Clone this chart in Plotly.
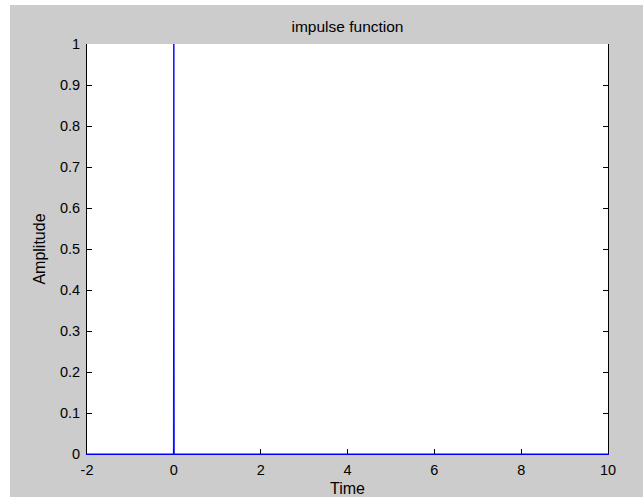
import plotly.graph_objects as go

# Data
time = [-2, -0.01, 0, 0.01, 10]
amplitude = [0, 0, 1, 0, 0]

x_ticks = [-2, 0, 2, 4, 6, 8, 10]
x_tick_labels = ["-2", "0", "2", "4", "6", "8", "10"]
y_ticks = [0, 0.1, 0.2, 0.3, 0.4, 0.5, 0.6, 0.7, 0.8, 0.9, 1]
y_tick_labels = ["0", "0.1", "0.2", "0.3", "0.4", "0.5", "0.6", "0.7", "0.8", "0.9", "1"]

W, H = 643, 497
L, R, T, B = 87, 35, 44, 43
PW, PH = W - L - R, H - T - B

FAMILY = "Liberation Sans, Arial, sans-serif"
tick_font = dict(family=FAMILY, size=14.5, color="#000000")
label_font = dict(family=FAMILY, size=16, color="#000000")
title_font = dict(family=FAMILY, size=15.5, color="#000000")

fig = go.Figure()
fig.add_trace(go.Scatter(x=time, y=amplitude, mode="lines",
                         line=dict(color="#0000ff", width=1),
                         showlegend=False, hoverinfo="skip"))

common = dict(showgrid=False, zeroline=False, ticks="inside", ticklen=5,
              tickcolor="#000000", tickwidth=1, tickfont=tick_font,
              layer="below traces", automargin=False, fixedrange=True)

fig.update_layout(
    width=W, height=H,
    autosize=False,
    margin=dict(l=L, r=R, t=T, b=B, pad=0, autoexpand=False),
    paper_bgcolor="#cccccc",
    plot_bgcolor="#ffffff",
    font=tick_font,
    hovermode=False,
    title=dict(text="impulse function", x=(L + PW / 2) / W, xanchor="center",
               y=1 - 27 / H, yanchor="middle", font=title_font),
    xaxis=dict(range=[-2, 10], tickvals=x_ticks, ticktext=x_tick_labels,
               showline=True, linecolor="#0000ff", linewidth=1, mirror=False,
               ticklabelstandoff=3,
               title=dict(text="Time", font=label_font, standoff=5), **common),
    xaxis2=dict(range=[-2, 10], tickvals=x_ticks, overlaying="x", side="top",
                showticklabels=False, showline=True, linecolor="#000000",
                linewidth=1, **common),
    yaxis=dict(range=[0, 1], tickvals=y_ticks, ticktext=y_tick_labels,
               showline=True, linecolor="#000000", linewidth=1, mirror="ticks",
               ticklabelstandoff=3,
               title=dict(text="Amplitude", font=label_font, standoff=10), **common),
    shapes=[
        dict(type="rect", xref="paper", yref="paper", layer="below",
             x0=-L / PW, x1=(10 - L) / PW, y0=-B / PH, y1=(H - B) / PH,
             fillcolor="#ffffff", line=dict(width=0)),
        dict(type="rect", xref="paper", yref="paper", layer="below",
             x0=-L / PW, x1=(W - L) / PW, y0=(H - B - 5) / PH, y1=(H - B) / PH,
             fillcolor="#ffffff", line=dict(width=0)),
    ],
)

fig.write_html("out.html",
               config={"displayModeBar": False, "staticPlot": False},
               post_script="document.body.style.margin='0';document.body.style.overflow='hidden';")
